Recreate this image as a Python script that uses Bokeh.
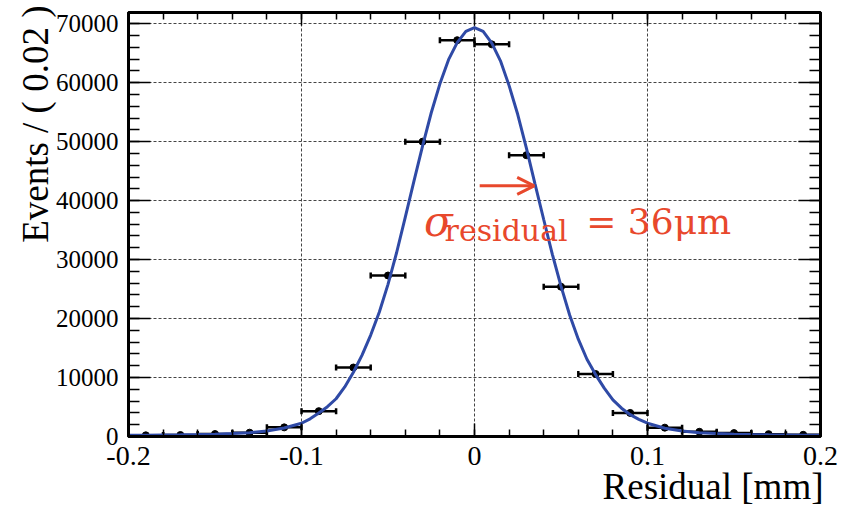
import math
from bokeh.plotting import figure
from bokeh.embed import file_html
from bokeh.resources import INLINE
from bokeh.models import (Label, Arrow, OpenHead, Whisker, TeeHead, ColumnDataSource,
                          LinearAxis, SingleIntervalTicker, CustomJSTickFormatter, Range1d,
                          Title)

# ---- data ----
bin_width = 0.02
bin_centers = [-0.19, -0.17, -0.15, -0.13, -0.11, -0.09, -0.07, -0.05, -0.03, -0.01,
               0.01, 0.03, 0.05, 0.07, 0.09, 0.11, 0.13, 0.15, 0.17, 0.19]
events = [200, 250, 420, 650, 1550, 4300, 11700, 27300, 50000, 67200,
          66500, 47700, 25400, 10600, 4000, 1500, 800, 580, 400, 290]

curve_x = [-0.2, -0.19, -0.18, -0.17, -0.16, -0.15, -0.14, -0.13, -0.12, -0.11,
           -0.1, -0.095, -0.09, -0.085, -0.08, -0.075, -0.07, -0.065, -0.06, -0.055,
           -0.05, -0.045, -0.04, -0.035, -0.03, -0.025, -0.02, -0.015, -0.01, -0.005,
           0.0,
           0.005, 0.01, 0.015, 0.02, 0.025, 0.03, 0.035, 0.04, 0.045, 0.05,
           0.055, 0.06, 0.065, 0.07, 0.075, 0.08, 0.085, 0.09, 0.095, 0.1,
           0.11, 0.12, 0.13, 0.14, 0.15, 0.16, 0.17, 0.18, 0.19, 0.2]
curve_y = [200, 220, 250, 280, 330, 400, 500, 650, 950, 1450,
           2250, 3000, 4000, 5050, 6400, 8400, 10900, 13800, 17200, 21100,
           25800, 31200, 37200, 43300, 49300, 54900, 59800, 63900, 66800, 68700,
           69350,
           68700, 66700, 63700, 59500, 54600, 48900, 42800, 36800, 30900, 25500,
           20600, 16500, 13100, 10500, 8200, 6200, 4800, 3700, 2900, 2250,
           1400, 950, 650, 500, 400, 330, 280, 250, 220, 200]

x_title = "Residual [mm]"
y_title = "Events / ( 0.02 )"

# ---- figure ----
p = figure(width=846, height=514, x_range=Range1d(-0.2, 0.2), y_range=Range1d(0, 71900),
           output_backend="svg", toolbar_location=None,
           min_border_left=128, min_border_right=26, min_border_top=12, min_border_bottom=78)
p.background_fill_color = "white"
p.border_fill_color = "white"
p.outline_line_color = "black"
p.outline_line_width = 3

xticker = SingleIntervalTicker(interval=0.1, num_minor_ticks=5)
yticker = SingleIntervalTicker(interval=10000, num_minor_ticks=5)

xfmt = CustomJSTickFormatter(code="return Math.abs(tick) < 1e-9 ? '0' : tick.toFixed(1);")
yfmt = CustomJSTickFormatter(code="return tick.toFixed(0);")
blank = CustomJSTickFormatter(code="return '';")

xa = p.xaxis[0]
xa.ticker = xticker
xa.formatter = xfmt
xa.major_tick_in = 13
xa.major_tick_out = 0
xa.minor_tick_in = 7
xa.minor_tick_out = 0
xa.major_tick_line_width = 1.5
xa.minor_tick_line_width = 1.5
xa.axis_line_width = 3
xa.major_label_text_font = "Liberation Serif"
xa.major_label_text_font_size = "28px"
xa.major_label_text_color = "black"
xa.major_label_standoff = 10

ya = p.yaxis[0]
ya.ticker = yticker
ya.formatter = yfmt
ya.major_tick_in = 22
ya.major_tick_out = 0
ya.minor_tick_in = 11
ya.minor_tick_out = 0
ya.major_tick_line_width = 1.5
ya.minor_tick_line_width = 1.5
ya.axis_line_width = 3
ya.major_label_text_font = "Liberation Serif"
ya.major_label_text_font_size = "25px"
ya.major_label_text_color = "black"
ya.major_label_standoff = 10

top = LinearAxis(ticker=xticker, formatter=blank, major_tick_in=13, major_tick_out=0,
                 minor_tick_in=7, minor_tick_out=0, major_tick_line_width=1.5,
                 minor_tick_line_width=1.5, axis_line_width=3,
                 major_label_text_font_size="1px", major_label_text_color=None,
                 major_label_standoff=0)
right = LinearAxis(ticker=yticker, formatter=blank, major_tick_in=22, major_tick_out=0,
                   minor_tick_in=11, minor_tick_out=0, major_tick_line_width=1.5,
                   minor_tick_line_width=1.5, axis_line_width=3,
                   major_label_text_font_size="1px", major_label_text_color=None,
                   major_label_standoff=0)
p.add_layout(top, "above")
p.add_layout(right, "right")

p.xgrid.ticker = xticker
p.ygrid.ticker = yticker
for g in (p.xgrid[0], p.ygrid[0]):
    g.grid_line_color = "#444444"
    g.grid_line_width = 1
    g.grid_line_dash = "3 2"

# ---- axis titles ----
p.add_layout(Title(text=x_title, align="right", text_font="Liberation Serif",
                   text_font_size="37px", text_font_style="normal", text_color="black",
                   standoff=-7, offset=-3), "below")
p.add_layout(Title(text=y_title, align="right", text_font="Liberation Serif",
                   text_font_size="37px", text_font_style="normal", text_color="black",
                   standoff=-6, offset=-7), "left")

# ---- data points with horizontal bin-width bars ----
src = ColumnDataSource(dict(
    x=bin_centers, y=events,
    lo=[c - bin_width / 2 for c in bin_centers],
    hi=[c + bin_width / 2 for c in bin_centers]))
wh = Whisker(source=src, base="y", lower="lo", upper="hi", dimension="width",
             line_color="black", line_width=2.5,
             lower_head=TeeHead(size=6, line_width=2.5, line_color="black"),
             upper_head=TeeHead(size=6, line_width=2.5, line_color="black"),
             level="underlay")
p.add_layout(wh)
p.scatter("x", "y", source=src, size=7, color="black")

# ---- fit curve ----
p.line(curve_x, curve_y, line_color="#2f4aa6", line_width=3)

# ---- annotation ----
red = "#e8482c"
p.add_layout(Arrow(x_start=0.003, y_start=42500, x_end=0.0345, y_end=42500,
                   line_color=red, line_width=3,
                   end=OpenHead(size=17, line_color=red, line_width=3)))
p.add_layout(Label(x=-0.0292, y=36400, text="σ", text_font="DejaVu Serif",
                   text_font_style="italic", text_font_size="42px", text_color=red,
                   text_baseline="alphabetic"))
p.add_layout(Label(x=-0.0173, y=35000, text="residual", text_font="DejaVu Serif",
                   text_font_size="30px", text_color=red, text_baseline="alphabetic"))
p.add_layout(Label(x=0.0646, y=36400, text="= 36μm", text_font="DejaVu Serif",
                   text_font_size="36px", text_color=red, text_baseline="alphabetic"))

open("out.html", "w").write(file_html(p, INLINE))
